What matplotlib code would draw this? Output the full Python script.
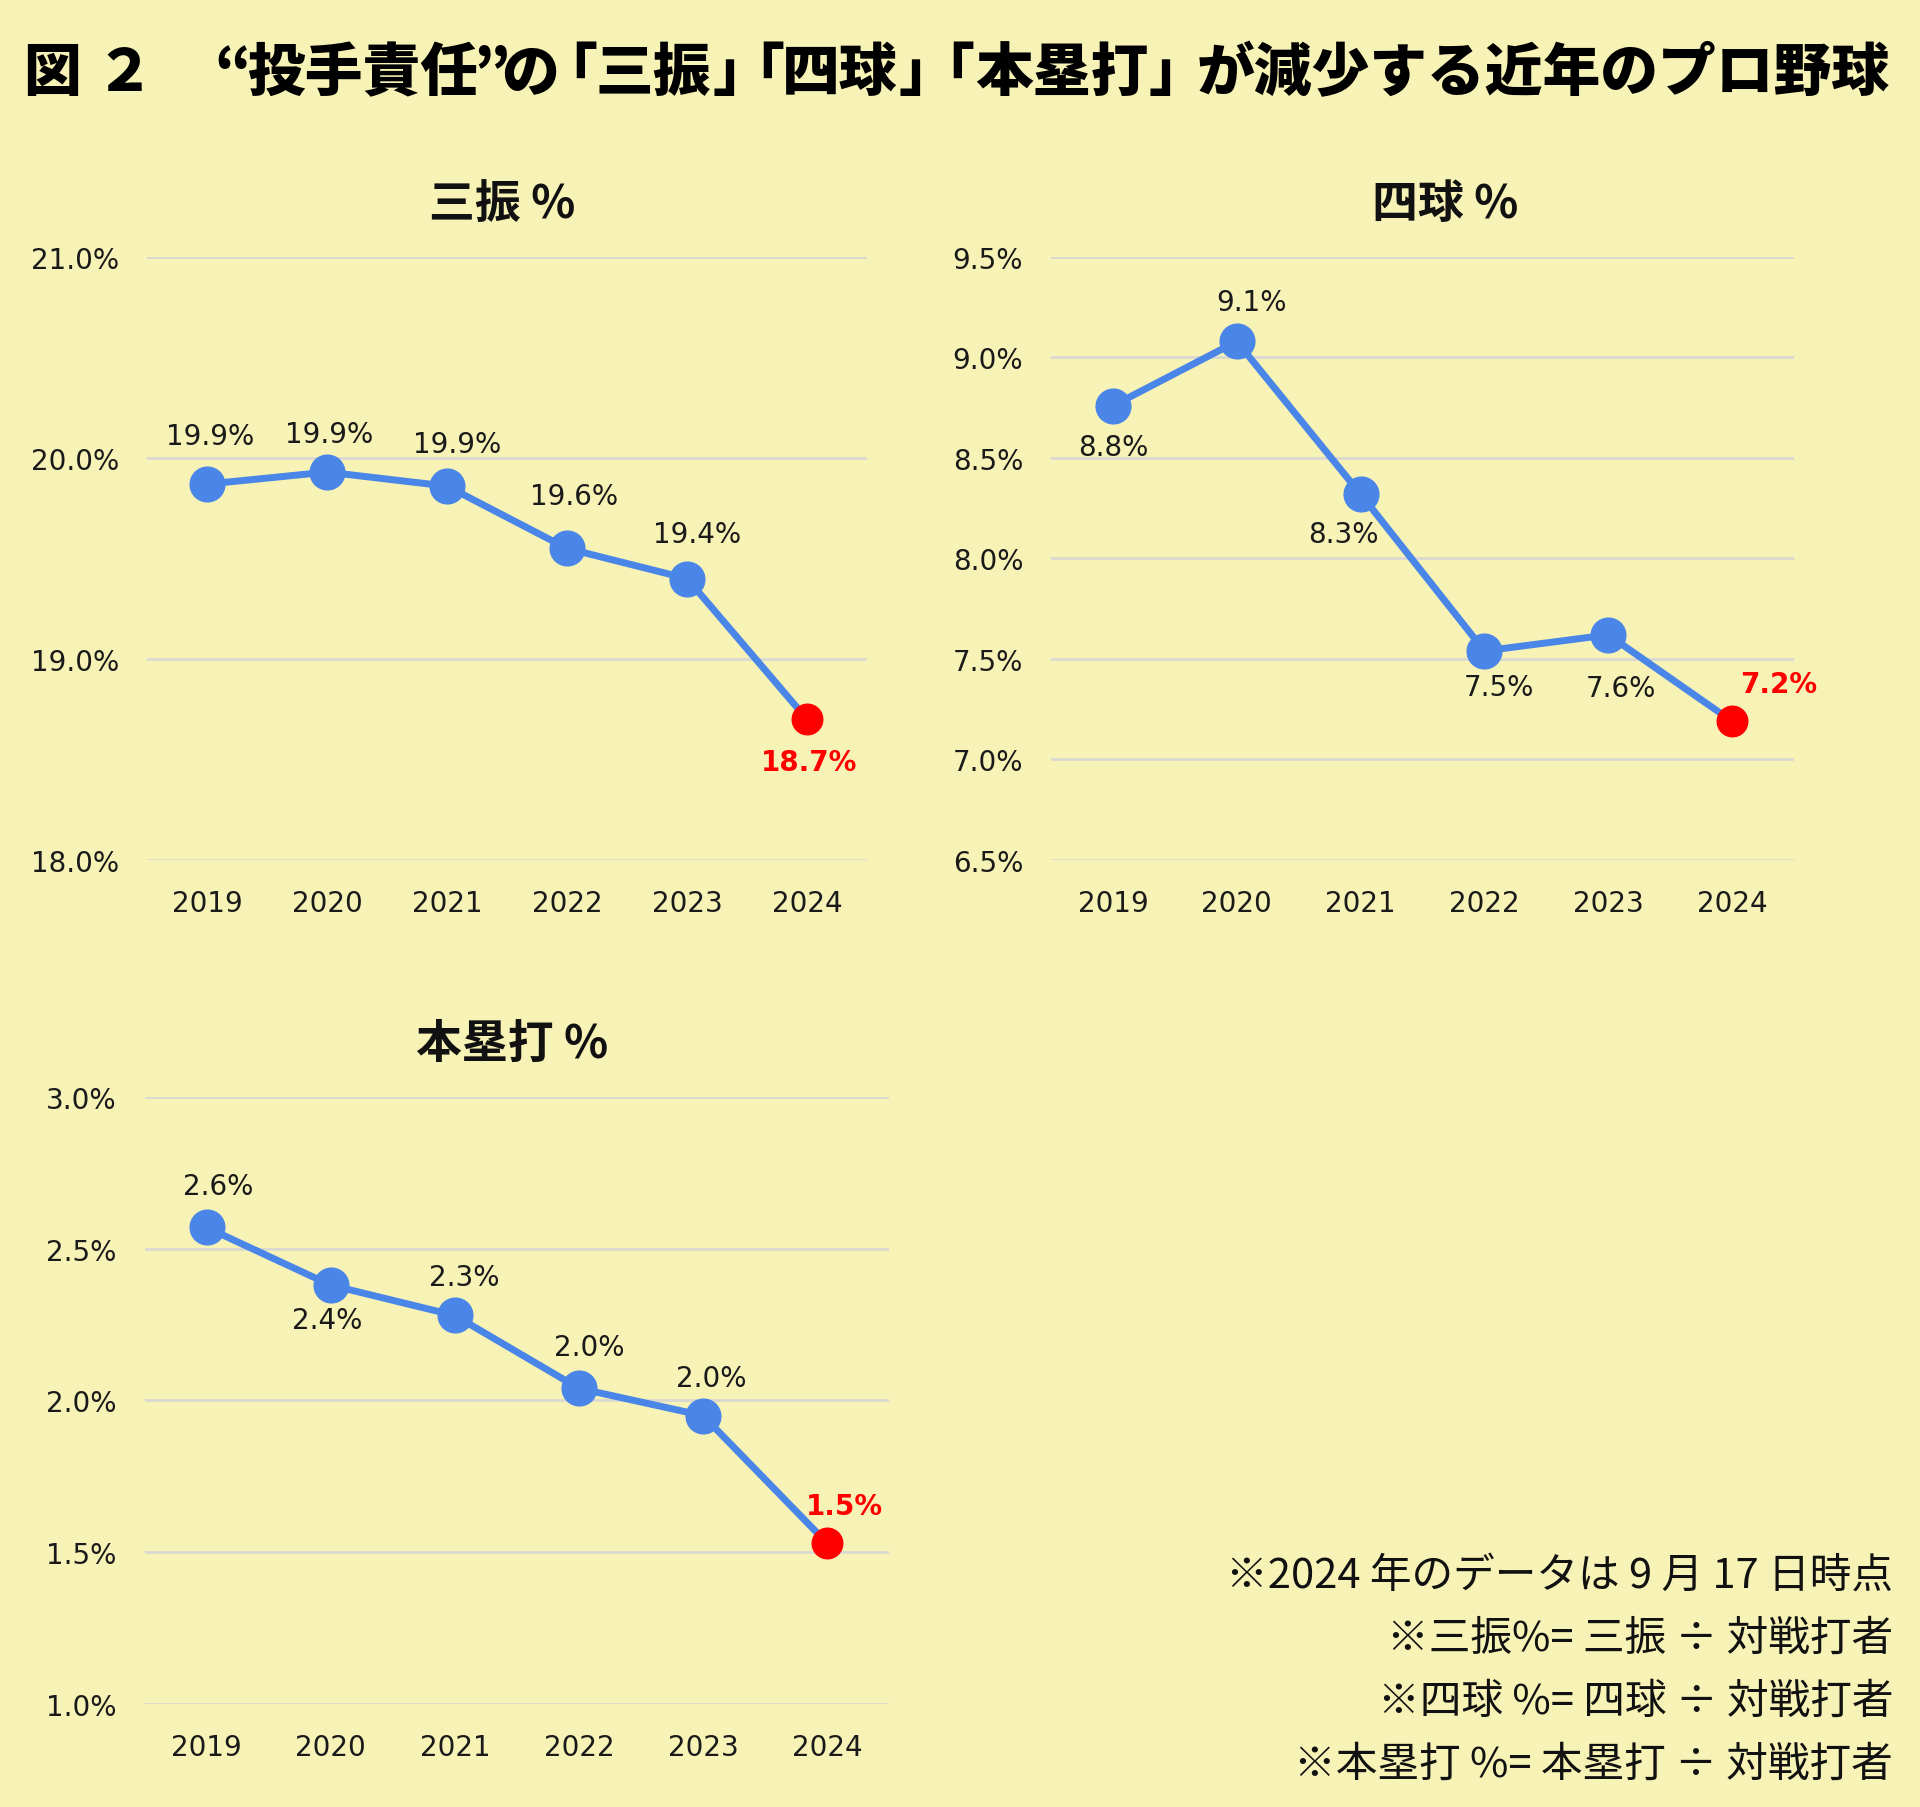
import matplotlib
matplotlib.use('Agg')
import matplotlib.pyplot as plt
from matplotlib.font_manager import FontProperties
from matplotlib.textpath import TextPath

plt.rcParams['font.family'] = ['DejaVu Sans', 'Noto Sans CJK JP']
CJK = ['Noto Sans CJK JP', 'DejaVu Sans']

# Data
years = ['2019', '2020', '2021', '2022', '2023', '2024']
so_pct = [19.87, 19.93, 19.86, 19.55, 19.40, 18.70]
so_lbl = ['19.9%', '19.9%', '19.9%', '19.6%', '19.4%', '18.7%']
bb_pct = [8.76, 9.08, 8.32, 7.54, 7.62, 7.19]
bb_lbl = ['8.8%', '9.1%', '8.3%', '7.5%', '7.6%', '7.2%']
hr_pct = [2.57, 2.38, 2.28, 2.04, 1.95, 1.53]
hr_lbl = ['2.6%', '2.4%', '2.3%', '2.0%', '2.0%', '1.5%']

so_ticks = [18.0, 19.0, 20.0, 21.0]
bb_ticks = [6.5, 7.0, 7.5, 8.0, 8.5, 9.0, 9.5]
hr_ticks = [1.0, 1.5, 2.0, 2.5, 3.0]

# title, split into pieces so the brackets sit tight like the original
title_parts = ['図', '２', '“', '投手責任', '”', 'の', '「', '三振', '」',
               '「', '四球', '」', '「', '本塁打', '」',
               'が減少する近年のプロ野球']
title_pos = [0.0, 1.39, 3.31, 3.83, 7.80, 8.25, 9.50, 9.90, 11.88,
             12.73, 13.13, 15.11, 16.02, 16.42, 19.42, 20.27]  # ink left, em

notes = ['※2024 年のデータは 9 月 17 日時点',
         '※三振%= 三振 ÷ 対戦打者',
         '※四球 %= 四球 ÷ 対戦打者',
         '※本塁打 %= 本塁打 ÷ 対戦打者']

# label offsets (pixels) for each point
so_off = [(3, 48), (2, 38), (10, 42), (7, 52), (10, 45), (2, -43)]
bb_off = [(0, -41), (15, 39), (-17, -40), (14, -36), (13, -53), (47, 37)]
hr_off = [(12, 41), (-4, -35), (9, 38), (10, 41), (8, 38), (17, 37)]

BG = '#f7f2b6'
BLUE = '#4a86e8'
RED = '#ff0000'
GRID = '#d9d9d2'
INK = '#1a1a1a'


def draw_panel(ax, vals, lbls, offs, ticks, name, tdx):
  ax.set_facecolor(BG)
  x = list(range(len(years)))
  ax.plot(x, vals, color=BLUE, lw=5, zorder=3, solid_capstyle='round')
  ax.plot(x[:-1], vals[:-1], 'o', color=BLUE, ms=25, zorder=4, clip_on=False)
  ax.plot(x[-1:], vals[-1:], 'o', color=RED, ms=22, zorder=5, clip_on=False)
  for i, (v, t, o) in enumerate(zip(vals, lbls, offs)):
    last = i == len(vals) - 1
    ax.annotate(t, (i, v), xytext=o, textcoords='offset pixels',
                ha='center', va='center', fontsize=20,
                color=RED if last else INK,
                fontweight='bold' if last else 'normal', zorder=6)
  ax.set_xlim(-0.5, len(years) - 0.5)
  ax.set_ylim(ticks[0], ticks[-1])
  ax.set_yticks(ticks)
  ax.set_yticklabels(['%.1f%%' % t for t in ticks])
  ax.set_xticks(x)
  ax.set_xticklabels(years)
  ax.tick_params(length=0, labelsize=20, labelcolor=INK)
  ax.tick_params(axis='x', pad=21)
  ax.tick_params(axis='y', pad=20)
  ax.grid(axis='y', color=GRID, lw=2)
  ax.set_axisbelow(True)
  for s in ax.spines.values():
    s.set_visible(False)
  ax.annotate(name, (0.5, 1.0), xycoords='axes fraction', xytext=(tdx, 53),
              textcoords='offset pixels', ha='center', va='center',
              fontsize=33, fontweight='bold', family=CJK, color='#111111')


fig = plt.figure(figsize=(19.2, 18.08), dpi=100)
fig.patch.set_facecolor(BG)

ax1 = fig.add_axes([0.0766, 0.5238, 0.375, 0.3335])
ax2 = fig.add_axes([0.5474, 0.5238, 0.387, 0.3335])
ax3 = fig.add_axes([0.0753, 0.0570, 0.3878, 0.3357])

draw_panel(ax1, so_pct, so_lbl, so_off, so_ticks, '三振 %', -5)
draw_panel(ax2, bb_pct, bb_lbl, bb_off, bb_ticks, '四球 %', 23)
draw_panel(ax3, hr_pct, hr_lbl, hr_off, hr_ticks, '本塁打 %', -5)

# title: place each piece so that its ink starts where it does in the original
em = 57.8
x0 = 27
tprop = FontProperties(family=CJK, weight='heavy')
for part, p in zip(title_parts, title_pos):
  bearing = TextPath((0, 0), part, size=em, prop=tprop).get_extents().x0
  fig.text((x0 + p * em - bearing) / 1920, 0.9497, part, fontsize=em * 0.72,
           fontweight='heavy', family=CJK, ha='left', va='baseline',
           color='#000000')

for k, n in enumerate(notes):
  fig.text(0.986, 0.128 - k * 0.0348, n, fontsize=30, ha='right',
           va='center', color='#111111', family=CJK)

fig.savefig('out.png', dpi=100, facecolor=BG)
